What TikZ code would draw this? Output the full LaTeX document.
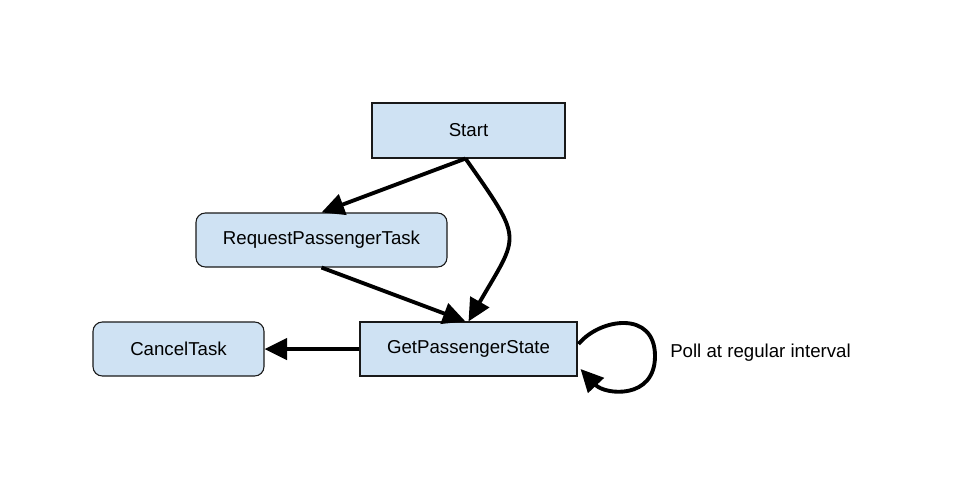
\documentclass[tikz,border=0pt]{standalone}
\usepackage{fontspec}
\setmainfont{Liberation Sans}
\usetikzlibrary{arrows.meta,calc}
\definecolor{boxblue}{HTML}{CFE2F3}
\tikzset{
  box/.style={draw=black!90, fill=boxblue, line width=0.8pt, inner sep=0pt,
    font=\fontsize{14}{16}\selectfont, text=black},
  rbox/.style={box, rounded corners=7pt},
  arr/.style={line width=2.9pt, -{Triangle[length=17pt,width=16pt]}},
  lbl/.style={font=\fontsize{14}{16}\selectfont, text=black, inner sep=0pt}
}
\begin{document}
\begin{tikzpicture}[x=0.75pt,y=-0.75pt]
\useasboundingbox (0,0) rectangle (960,490);
\node[box, minimum width=144.75pt, minimum height=41.25pt] (start) at (468.5,130.5) {Start};
\node[rbox, minimum width=188.25pt, minimum height=40.5pt] (req) at (321.5,240) {RequestPassengerTask};
\node[rbox, minimum width=128.25pt, minimum height=40.5pt] (cancel) at (178.5,349) {CancelTask};
\node[box, minimum width=162.75pt, minimum height=40.5pt] (gps) at (468.5,349) {GetPassengerState};
\node[lbl, anchor=west] (poll) at (670,353) {Poll at regular interval};
\coordinate (s1) at ($(start.south)+(-3,0)$);
\coordinate (g1) at ($(gps.north)+(-3,0)$);
\coordinate (l1) at ($(gps.east)+(1,-5)$);
\coordinate (l2) at ($(gps.east)+(3,20)$);
\draw[arr] (s1) -- (req.north);
\draw[arr] (req.south) -- (g1);
\draw[arr] (s1) to[out=-55,in=60,looseness=1.6] (gps.north);
\draw[arr] (gps.west) -- (cancel.east);
\draw[arr] (l1) .. controls (600,318) and (655,310) .. (655,356) .. controls (655,400) and (605,395) .. (l2);
\end{tikzpicture}
\end{document}
